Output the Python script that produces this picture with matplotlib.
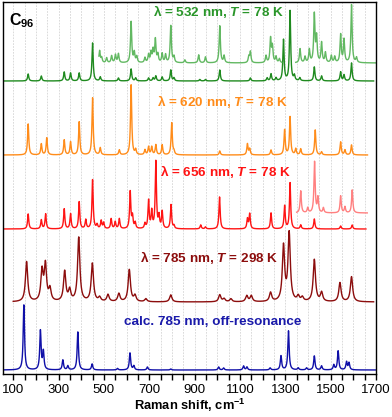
import numpy as np
import matplotlib
matplotlib.use('Agg')
import matplotlib.pyplot as plt

plt.rcParams['font.family'] = ['Liberation Sans', 'DejaVu Sans']
plt.rcParams['mathtext.fontset'] = 'custom'
plt.rcParams['mathtext.rm'] = 'Liberation Sans:bold'
plt.rcParams['mathtext.bf'] = 'Liberation Sans:bold'
plt.rcParams['mathtext.it'] = 'Liberation Sans:italic:bold'

# peak lists: (Raman shift cm-1, relative height)
g532_lo_pos = [166, 224, 325, 353, 391, 450, 484, 564, 620, 640, 697, 717, 729, 757, 795, 809,
               923, 948, 1011, 1146, 1220, 1237, 1259, 1292, 1321, 1340, 1364, 1428, 1460,
               1544, 1559, 1592]
g532_lo_h = [7, 5, 9, 8, 8, 38, 4, 3, 12, 3, 3, 3, 5, 4, 11, 3,
             1.5, 1.5, 11, 3, 3, 7, 3, 41, 70, 5, 3, 14, 5, 9, 6, 18]

g532_hi_pos = [481, 490, 512, 534, 551, 564, 620, 634, 645, 681, 697, 708, 717, 727, 738, 757,
               772, 795, 809, 857, 918, 948, 1011, 1030, 1139, 1146, 1215, 1235, 1243, 1259,
               1274, 1365, 1387, 1406, 1428, 1438, 1460, 1477, 1503, 1518, 1544, 1559, 1592, 1614]
g532_hi_h = [12, 5, 5, 7, 8, 9, 41, 10, 6, 5, 8, 10, 12, 23, 8, 9,
             8, 37, 6, 3, 8, 6, 37, 7, 6, 11, 7, 24, 16, 6,
             4, 14, 6, 13, 48, 25, 20, 10, 7, 6, 28, 23, 58, 5]

o620_pos = [166, 224, 248, 325, 353, 391, 450, 484, 568, 620, 640, 681, 697, 711, 729, 757,
            799, 809, 1011, 1133, 1143, 1237, 1297, 1321, 1346, 1368, 1432, 1460, 1544,
            1563, 1592]
o620_h = [31, 11, 17, 15, 13, 33, 57, 7, 5, 70, 5, 5, 8, 8, 10, 10,
          32, 3, 4, 11, 6, 5, 25, 38, 6, 6, 25, 3, 13, 5, 10]

r656_pos = [166, 224, 243, 325, 353, 391, 420, 450, 470, 488, 499, 532, 550, 568, 616, 626,
            638, 681, 697, 711, 729, 743, 757, 796, 809, 927, 948, 1010, 1133, 1143, 1237,
            1297, 1321, 1368, 1428, 1544, 1595]
r656_h = [15, 9, 15, 20, 15, 27, 9, 49, 4, 8, 6, 10, 7, 10, 37, 12,
          6, 5, 28, 17, 67, 12, 17, 24, 3, 4, 2, 32, 10, 15, 16,
          23, 46, 4, 10, 3, 4]

r656_hi_pos = [1368, 1399, 1429, 1444, 1468, 1544, 1563, 1595]
r656_hi_h = [22, 5, 51, 15, 5, 17, 6, 23]

m785_pos = [159, 227, 242, 262, 327, 349, 389, 449, 481, 518, 566, 612, 637, 685, 795,
            1011, 1030, 1060, 1130, 1150, 1235, 1292, 1317, 1357, 1375, 1428, 1460, 1541, 1592]
m785_h = [40, 30, 36, 12, 30, 11, 64, 38, 4, 7, 8, 32, 6, 3, 7,
          7, 3, 3, 6, 6, 9, 55, 68, 5, 4, 42, 9, 19, 25]

calc_pos = [147, 220, 233, 319, 341, 385, 448, 560, 615, 632, 692, 795, 1006, 1028, 1116,
            1131, 1233, 1281, 1314, 1357, 1394, 1428, 1460, 1514, 1533, 1570, 1581]
calc_h = [65, 39, 18, 10, 4, 38, 6, 1.5, 17, 4, 3, 1, 3, 2, 4,
          3, 2, 14, 39, 2, 2, 14, 4, 5, 19, 8, 7]


def spectrum(x, pos, h, w):
    y = np.zeros_like(x)
    for p, a in zip(pos, h):
        y += a * w**2 / ((x - p)**2 + w**2)
    return y


fig = plt.figure(figsize=(3.92, 4.17), dpi=100)
ax = fig.add_axes([3/392, 43/417, 373/392, 372/417])

for xv in np.arange(100, 1700, 50):
    ax.axvline(xv, color='#d4d4d4', lw=0.6, ls=(0, (2, 1.5)), zorder=0)

# 532 nm
x = np.arange(55, 1690, 0.5)
ax.plot(x, 293 + spectrum(x, g532_lo_pos, g532_lo_h, 3.2), color='#1f8a1f', lw=1.0)
for a, b in [(478, 1285), (1346, 1700)]:
    x = np.arange(a, b, 0.5)
    ax.plot(x, 311 + spectrum(x, g532_hi_pos, g532_hi_h, 3.2), color='#62b862', lw=1.0)

# 620 nm
x = np.arange(55, 1663, 0.5)
ax.plot(x, 219 + spectrum(x, o620_pos, o620_h, 3.2), color='#ff8c1a', lw=1.0)

# 656 nm
x = np.arange(55, 1656, 0.5)
ax.plot(x, 145 + spectrum(x, r656_pos, r656_h, 3.2), color='#ff1414', lw=1.0)
x = np.arange(1350, 1662, 0.5)
ax.plot(x, 161 + spectrum(x, r656_hi_pos, r656_hi_h, 3.2), color='#ff8080', lw=1.0)

# 785 nm, room temperature
x = np.arange(100, 1690, 0.5)
ax.plot(x, 72 + spectrum(x, m785_pos, m785_h, 6.0), color='#8c0d0d', lw=1.0)

# calculated
x = np.arange(60, 1700, 0.5)
ax.plot(x, 4 + spectrum(x, calc_pos, calc_h, 3.5), color='#1010a8', lw=1.0)

kw = dict(ha='center', va='center', fontsize=9.7, fontweight='bold')
ax.text(1007, 362, r'λ = 532 nm, $\mathit{T}$ = 78 K', color='#2a962a', **kw)
ax.text(1024, 272, r'λ = 620 nm, $\mathit{T}$ = 78 K', color='#ff8c1a', **kw)
ax.text(1036, 202, r'λ = 656 nm, $\mathit{T}$ = 78 K', color='#ff1414', **kw)
ax.text(966, 117, r'λ = 785 nm, $\mathit{T}$ = 298 K', color='#8c0d0d', **kw)
ax.text(979, 52, 'calc. 785 nm, off-resonance', color='#1a1aaa', **kw)
ax.text(0.015, 0.975, r'C$_{96}$', transform=ax.transAxes, ha='left', va='top',
        fontsize=11.5, fontweight='bold')

ax.set_xlim(55, 1700)
ax.set_ylim(0, 372)
ax.set_yticks([])
ax.set_xticks(np.arange(100, 1701, 200))
ax.set_xticks(np.arange(100, 1701, 50), minor=True)
ax.tick_params(axis='x', which='both', direction='out', length=4, width=1, labelsize=9.5, pad=3)
for s in ax.spines.values():
    s.set_linewidth(1.0)
ax.set_xlabel(r'Raman shift, cm$^{-1}$', fontsize=9.3, fontweight='bold', labelpad=1)

fig.savefig('out.png', dpi=100)
